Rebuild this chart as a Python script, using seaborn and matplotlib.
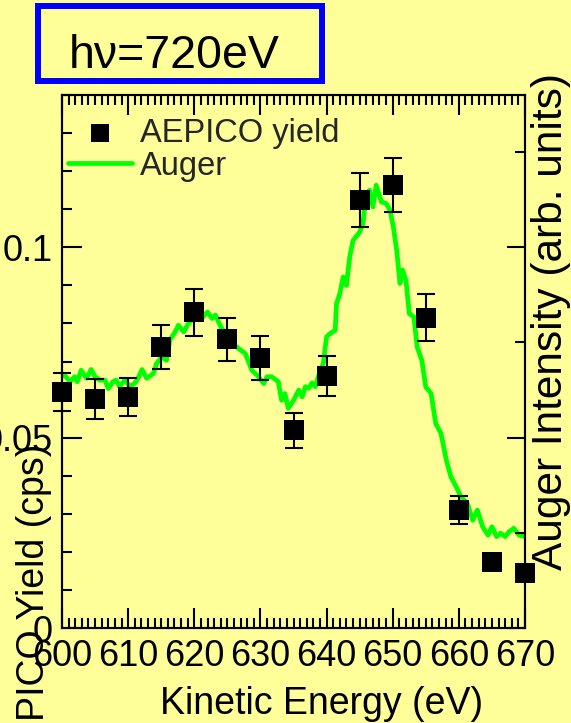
import matplotlib
matplotlib.use("Agg")
import matplotlib.pyplot as plt
from matplotlib.patches import Rectangle
from matplotlib.ticker import MultipleLocator, FixedLocator, FixedFormatter
import pandas as pd
import seaborn as sns

# AEPICO coincidence yield (cps) with statistical errors
aepico_energy = [600, 605, 610, 615, 620, 625, 630, 635, 640, 645, 650, 655, 660, 665, 670]
aepico_yield = [0.0619, 0.0601, 0.0606, 0.0738, 0.0829, 0.0758, 0.0709, 0.0519, 0.0662,
                0.1124, 0.1163, 0.0815, 0.0310, 0.0174, 0.0144]
aepico_err = [0.0050, 0.0052, 0.0050, 0.0057, 0.0062, 0.0057, 0.0057, 0.0047, 0.0053,
              0.0072, 0.0071, 0.0062, 0.0038, 0.0020, 0.0020]

# Auger electron spectrum, scaled onto the yield axis
auger_energy = [600.0, 600.6, 601.2, 601.9, 602.3, 602.9, 603.7, 604.4, 605.0, 605.7,
                606.5, 607.0, 607.7, 608.2, 608.7, 609.5, 610.3, 611.0, 611.5, 612.1,
                612.8, 613.8, 614.3, 615.1, 615.8, 616.3, 617.1, 617.6, 618.4, 619.1,
                619.9, 621.2, 622.0, 622.7, 623.2, 624.0, 624.7, 625.5, 626.4, 627.7,
                628.7, 629.5, 630.5, 631.0, 631.7, 632.7, 633.2, 633.7, 634.2, 635.0,
                635.8, 636.3, 636.8, 637.3, 637.8, 638.3, 638.8, 639.5, 640.0, 640.5,
                641.3, 641.5, 642.0, 642.5, 643.0, 643.5, 644.0, 645.0, 645.5, 646.0,
                646.5, 647.0, 647.5, 648.3, 649.0, 649.6, 650.1, 650.6, 651.1, 651.5,
                652.0, 652.5, 653.2, 653.7, 654.4, 655.0, 655.8, 656.5, 657.3, 658.1,
                658.8, 659.6, 660.3, 661.3, 662.1, 662.8, 663.6, 664.4, 665.0, 665.7,
                666.3, 667.0, 667.6, 668.3, 669.1, 670.0]
auger_intensity = [0.0668, 0.0660, 0.0647, 0.0660, 0.0647, 0.0677, 0.0656, 0.0679, 0.0660, 0.0651,
                   0.0651, 0.0629, 0.0647, 0.0651, 0.0634, 0.0651, 0.0634, 0.0643, 0.0656, 0.0679,
                   0.0656, 0.0668, 0.0695, 0.0712, 0.0703, 0.0756, 0.0778, 0.0795, 0.0778, 0.0800,
                   0.0813, 0.0815, 0.0830, 0.0813, 0.0822, 0.0791, 0.0773, 0.0750, 0.0738, 0.0721,
                   0.0677, 0.0664, 0.0642, 0.0660, 0.0660, 0.0647, 0.0598, 0.0616, 0.0577, 0.0598,
                   0.0625, 0.0607, 0.0634, 0.0630, 0.0644, 0.0634, 0.0664, 0.0695, 0.0765, 0.0773,
                   0.0782, 0.0852, 0.0878, 0.0922, 0.0900, 0.0975, 0.1018, 0.1040, 0.1062, 0.1141,
                   0.1150, 0.1106, 0.1163, 0.1119, 0.1115, 0.1097, 0.1053, 0.0992, 0.0905, 0.0940,
                   0.0913, 0.0826, 0.0817, 0.0738, 0.0703, 0.0633, 0.0616, 0.0537, 0.0511, 0.0441,
                   0.0397, 0.0371, 0.0345, 0.0327, 0.0283, 0.0310, 0.0266, 0.0244, 0.0266, 0.0240,
                   0.0249, 0.0240, 0.0253, 0.0262, 0.0244, 0.0240]

x_ticks = [600, 610, 620, 630, 640, 650, 660, 670]
x_tick_labels = ["600", "610", "620", "630", "640", "650", "660", "670"]
y_ticks = [0, 0.05, 0.1]
y_tick_labels = ["0", "0.05", "0.1"]
right_major = [0, 0.05, 0.1]
right_minor = [0.025, 0.075, 0.125]

BG = "#FFFF99"
GREEN = "#00FF00"
W, H = 571, 723

sns.set_theme(style="ticks")
plt.rcParams["font.family"] = ["Liberation Sans", "DejaVu Sans"]
plt.rcParams["axes.linewidth"] = 1.5

fig = plt.figure(figsize=(W / 100, H / 100), dpi=100, facecolor=BG)
ax = fig.add_axes([62 / W, 1 - 628 / H, 463 / W, 533 / H])
ax.set_facecolor(BG)

auger = pd.DataFrame({"energy": auger_energy, "intensity": auger_intensity})
points = pd.DataFrame({"energy": aepico_energy, "yield": aepico_yield, "err": aepico_err})

sns.lineplot(data=auger, x="energy", y="intensity", ax=ax, color=GREEN, lw=3.4,
             sort=False, label="Auger", zorder=2)
ax.errorbar(points["energy"], points["yield"], yerr=points["err"], fmt="none",
            ecolor="black", elinewidth=1.5, capsize=6.5, capthick=1.5, zorder=3,
            clip_on=False)
sns.scatterplot(data=points, x="energy", y="yield", ax=ax, marker="s", s=207,
                color="black", linewidth=0, label="AEPICO yield", zorder=4,
                clip_on=False)

ax.set_xlim(600, 670)
ax.set_ylim(0, 0.14)
ax.xaxis.set_major_locator(FixedLocator(x_ticks))
ax.xaxis.set_major_formatter(FixedFormatter(x_tick_labels))
ax.xaxis.set_minor_locator(MultipleLocator(1))
ax.yaxis.set_major_locator(FixedLocator(y_ticks))
ax.yaxis.set_major_formatter(FixedFormatter(y_tick_labels))
ax.yaxis.set_minor_locator(MultipleLocator(0.01))
ax.tick_params(which="both", direction="in", top=True, right=False, width=1.5,
               color="black", labelcolor="black", labelsize=26)
ax.tick_params(which="major", length=14.4)
ax.tick_params(which="minor", length=7.2)
ax.tick_params(axis="x", which="major", pad=8)
ax.tick_params(axis="y", which="major", pad=7)
for s in ax.spines.values():
    s.set_color("black")
    s.set_linewidth(1.5)

# right-hand Auger intensity axis (arbitrary units, no numbers)
ax2 = ax.twinx()
ax2.set_ylim(0, 0.14)
ax2.yaxis.set_major_locator(FixedLocator(right_major))
ax2.yaxis.set_minor_locator(FixedLocator(right_minor))
ax2.tick_params(which="both", direction="in", labelright=False, width=1.5, color="black")
ax2.tick_params(which="major", length=13)
ax2.tick_params(which="minor", length=7.2)
for s in ax2.spines.values():
    s.set_color("black")
    s.set_linewidth(1.5)

ax.set_xlabel("Kinetic Energy (eV)", fontsize=27, color="black", va="baseline")
ax.xaxis.set_label_coords((322 - 62) / 463, (628 - 714) / 533)
ax.set_ylabel("AEPICO Yield (cps)", fontsize=27, color="black", va="baseline")
ax.yaxis.set_label_coords((44 - 62) / 463, (628 - 607) / 533)
ax2.set_ylabel("Auger Intensity (arb. units)", fontsize=30.5, color="black", va="baseline")
ax2.yaxis.set_label_coords((562 - 62) / 463, (628 - 321) / 533)

handles, labels = ax.get_legend_handles_labels()
order = [labels.index("AEPICO yield"), labels.index("Auger")]
ax.legend([handles[i] for i in order], [labels[i] for i in order],
          loc="upper left", bbox_to_anchor=((68 - 62) / 463, (628 - 118) / 533),
          frameon=False, fontsize=23.5, handlelength=1.95, handletextpad=0.25,
          labelspacing=0.05, borderpad=0, borderaxespad=0, markerscale=0.9,
          scatterpoints=1)

# photon energy box
fig.patches.append(Rectangle((38 / W, 1 - 81 / H), (322 - 38) / W, (81 - 6) / H,
                             transform=fig.transFigure, fill=False,
                             edgecolor="#0000FF", linewidth=4.3))
fig.text(69 / W, 1 - 68 / H, "hν=720eV", fontsize=33.5, color="black",
         ha="left", va="baseline")

fig.savefig("out.png", dpi=100, facecolor=BG)
